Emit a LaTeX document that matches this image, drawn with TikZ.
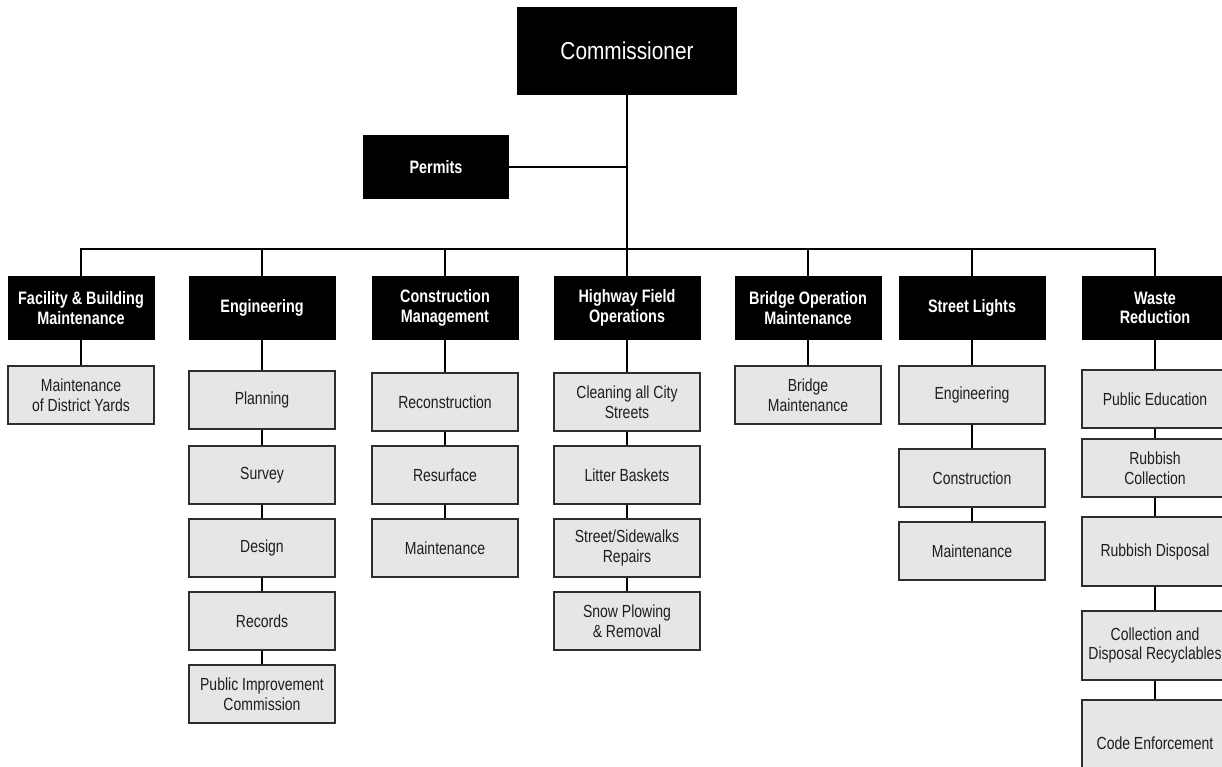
\documentclass[tikz,border=0pt]{standalone}
\usepackage{fontspec}
\setmainfont{Liberation Sans}[FakeStretch=0.8]
\newfontfamily\bossfont{Liberation Sans}[FakeStretch=0.85]
\definecolor{boxgray}{HTML}{E6E6E6}
\definecolor{edgegray}{HTML}{2E2E2E}
\definecolor{txtgray}{HTML}{1E1E1E}
\begin{document}
\begin{tikzpicture}[x=1pt,y=-1pt,
  boss/.style={fill=black,text=white,minimum width=220pt,minimum height=88pt,inner sep=0pt,
    font=\bossfont\fontsize{24.5}{28}\selectfont},
  head/.style={fill=black,text=white,minimum width=147pt,minimum height=64pt,inner sep=0pt,align=center,
    font=\bfseries\fontsize{18}{19.5}\selectfont},
  sub/.style={fill=boxgray,draw=edgegray,line width=1.3pt,minimum width=146pt,minimum height=58pt,inner sep=0pt,align=center,
    text=txtgray,font=\fontsize{17.5}{19.5}\selectfont},
  link/.style={draw=black,line width=1.2pt}]
\useasboundingbox (0,0) rectangle (1222,767);

% top
\node[boss] (comm) at (627,51) {Commissioner};
\node[head,minimum width=146pt] (permits) at (436,167) {Permits};

% heads
\node[head] (fac) at (81,308) {Facility \& Building\\Maintenance};
\node[head] (eng) at (262,308) {Engineering};
\node[head] (con) at (445,308) {Construction\\Management};
\node[head] (hwy) at (627,308) {Highway Field\\Operations};
\node[head] (bri) at (808,308) {Bridge Operation\\Maintenance};
\node[head] (sl) at (972,308) {Street Lights};
\node[head] (was) at (1155,308) {Waste\\Reduction};

% facility
\node[sub] (fac1) at (81,395) {Maintenance\\of District Yards};
% engineering
\node[sub] (eng1) at (262,400) {Planning};
\node[sub] (eng2) at (262,475) {Survey};
\node[sub] (eng3) at (262,548) {Design};
\node[sub] (eng4) at (262,621) {Records};
\node[sub] (eng5) at (262,694) {Public Improvement\\Commission};
% construction
\node[sub] (con1) at (445,402) {Reconstruction};
\node[sub] (con2) at (445,475) {Resurface};
\node[sub] (con3) at (445,548) {Maintenance};
% highway
\node[sub] (hwy1) at (627,402) {Cleaning all City\\Streets};
\node[sub] (hwy2) at (627,475) {Litter Baskets};
\node[sub] (hwy3) at (627,548) {Street/Sidewalks\\Repairs};
\node[sub] (hwy4) at (627,621) {Snow Plowing\\\& Removal};
% bridge
\node[sub] (bri1) at (808,395) {Bridge\\Maintenance};
% street lights
\node[sub] (sl1) at (972,395) {Engineering};
\node[sub] (sl2) at (972,478) {Construction};
\node[sub] (sl3) at (972,551) {Maintenance};
% waste
\node[sub] (was1) at (1155,399) {Public Education};
\node[sub] (was2) at (1155,468) {Rubbish\\Collection};
\node[sub,minimum height=69pt] (was3) at (1155,551.5) {Rubbish Disposal};
\node[sub,minimum height=69pt] (was4) at (1155,645.5) {Collection and\\Disposal Recyclables};
\node[sub,minimum height=86pt] (was5) at (1155,743) {Code Enforcement};

% connectors
\coordinate (busL) at (81,249);
\coordinate (busR) at (1155,249);
\draw[link] (fac.north) -- (busL) -- (busR) -- (was.north);
\draw[link] (comm.south) -- (comm.south |- busL);
\draw[link] (permits.east) -- (permits.east -| comm.south);
\foreach \h in {eng,con,hwy,bri,sl}{
  \draw[link] (\h.north) -- (\h.north |- busL);
}
\draw[link] (fac.south) -- (fac1.north);
\draw[link] (eng.south) -- (eng1.north) (eng1.south) -- (eng2.north) (eng2.south) -- (eng3.north)
  (eng3.south) -- (eng4.north) (eng4.south) -- (eng5.north);
\draw[link] (con.south) -- (con1.north) (con1.south) -- (con2.north) (con2.south) -- (con3.north);
\draw[link] (hwy.south) -- (hwy1.north) (hwy1.south) -- (hwy2.north) (hwy2.south) -- (hwy3.north)
  (hwy3.south) -- (hwy4.north);
\draw[link] (bri.south) -- (bri1.north);
\draw[link] (sl.south) -- (sl1.north) (sl1.south) -- (sl2.north) (sl2.south) -- (sl3.north);
\draw[link] (was.south) -- (was1.north) (was1.south) -- (was2.north) (was2.south) -- (was3.north)
  (was3.south) -- (was4.north) (was4.south) -- (was5.north);
\end{tikzpicture}
\end{document}
